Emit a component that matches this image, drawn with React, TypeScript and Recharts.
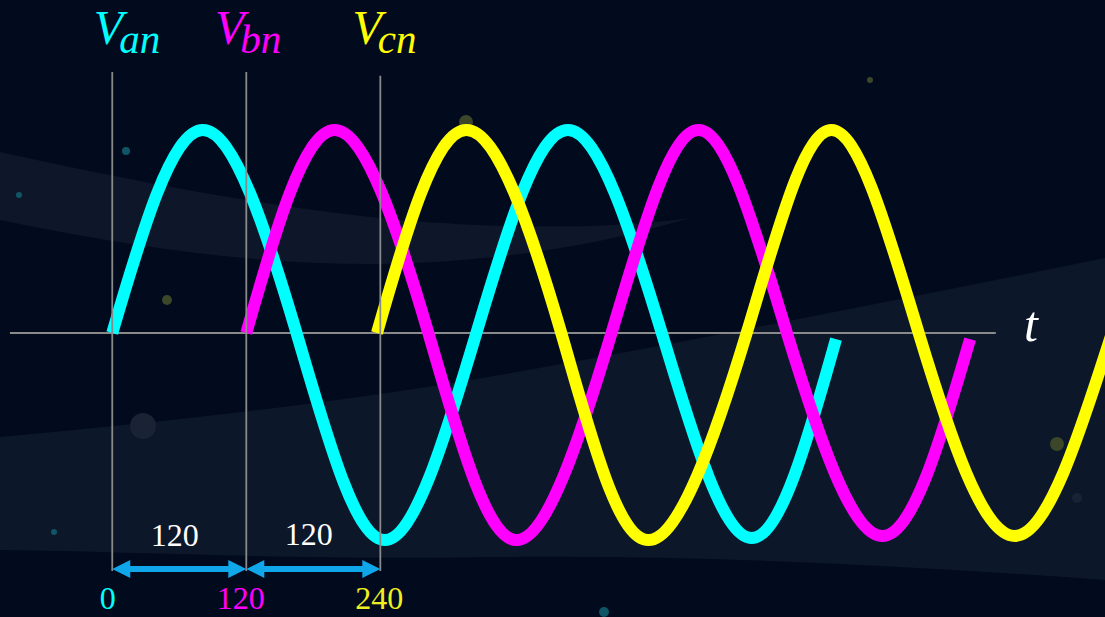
import React from "react";
import { LineChart, Line, XAxis, YAxis, ReferenceLine, ReferenceDot } from "recharts";

// phase angle (degrees) and normalised voltage
const vanDeg = [0, 81, 165, 244, 326, 408, 492, 572, 648];
const vanVal = [0, 0.99, 0, -1.01, 0, 0.99, 0, -1.0, -0.03];
const vbnDeg = [120, 199, 283, 362, 447, 525, 604, 689, 768];
const vbnVal = [0, 0.99, 0, -1.01, 0, 0.99, 0, -0.99, -0.03];
const vcnDeg = [237, 317, 402, 480, 568, 644, 722, 808, 895];
const vcnVal = [0, 0.99, 0, -1.01, 0, 0.99, 0, -0.99, 0];

const phaseStarts = [0, 120, 240];
const phaseTickLabels = ["0", "120", "240"];
const shiftLabels = ["120", "120"];
const seriesNames = ["an", "bn", "cn"];

const toRows = (xs: number[], ys: number[]) => xs.map((x, i) => ({ x, v: ys[i] }));
const vanData = toRows(vanDeg, vanVal);
const vbnData = toRows(vbnDeg, vbnVal);
const vcnData = toRows(vcnDeg, vcnVal);

const COLORS = ["#00ffff", "#ff00ff", "#ffff00"];
const BOTTOM_COLORS = ["#00ffff", "#ff00ff", "#f0f020"];
const GRID = "#8a8a8a";
const ARROW = "#10a6ea";
const SERIF = "'Liberation Serif', 'Times New Roman', serif";

const arrowShape = (p: any) => {
  const { x1, y1, x2 } = p;
  const h = 18, w = 9, t = 3;
  const y = y1;
  const pts = [
    [x1, y], [x1 + h, y - w], [x1 + h, y - t], [x2 - h, y - t], [x2 - h, y - w],
    [x2, y], [x2 - h, y + w], [x2 - h, y + t], [x1 + h, y + t], [x1 + h, y + w],
  ].map((q) => q.join(",")).join(" ");
  return <polygon points={pts} fill={ARROW} />;
};

const seriesLabel = (i: number) => (p: any) => (
  <text x={p.cx} y={p.cy} fill={COLORS[i]} fontFamily={SERIF} fontStyle="italic">
    <tspan fontSize={48}>V</tspan>
    <tspan fontSize={41} dx={-4} dy={9.5}>{seriesNames[i]}</tspan>
  </text>
);

const plainText = (txt: string, color: string, size: number, italic = false) => (p: any) => (
  <text x={p.cx} y={p.cy} fill={color} fontFamily={SERIF} fontSize={size}
    fontStyle={italic ? "italic" : "normal"} textAnchor="middle">{txt}</text>
);

const Background = () => (
  <svg width={1105} height={617} style={{ position: "absolute", left: 0, top: 0 }}>
    <rect x={0} y={0} width={1105} height={617} fill="#020a1e" />
    <path d="M0,437 Q300,410 500,375 T1105,258 L1105,580 C900,565 700,555 500,557 C300,560 150,552 0,550 Z" fill="#0d172a" />
    <path d="M0,152 C120,178 260,207 400,220 C520,230 620,228 690,218 C600,245 500,262 380,264 C250,265 120,245 0,220 Z" fill="#0e1729" />
    <circle cx={143} cy={426} r={13} fill="#1a2334" />
    <circle cx={167} cy={300} r={5} fill="#3c4628" />
    <circle cx={126} cy={151} r={4} fill="#0e5566" />
    <circle cx={466} cy={122} r={7} fill="#3c4628" />
    <circle cx={1057} cy={444} r={7} fill="#3c4628" />
    <circle cx={870} cy={80} r={3} fill="#3c4628" />
    <circle cx={1077} cy={498} r={5} fill="#1a2334" />
    <circle cx={19} cy={195} r={3} fill="#0e5566" />
    <circle cx={54} cy={532} r={3} fill="#0e5566" />
    <circle cx={604} cy={612} r={5} fill="#0e5566" />
  </svg>
);

const lineCommon = {
  dataKey: "v",
  type: "natural" as const,
  strokeWidth: 12,
  dot: false,
  activeDot: false,
  legendType: "none" as const,
  isAnimationActive: false,
};

export default function App() {
  return (
    <div style={{ position: "absolute", left: 0, top: 0, width: 1105, height: 617, overflow: "hidden", background: "#020a1e" }}>
      <Background />
      <div style={{ position: "absolute", left: 0, top: 0 }}>
        <LineChart width={1105} height={617} margin={{ top: 0, right: 0, bottom: 0, left: 0 }}>
          <XAxis type="number" dataKey="x" domain={[-100.5, 888.8]} allowDataOverflow hide />
          <YAxis type="number" domain={[-1.385, 1.624]} allowDataOverflow hide />
          <ReferenceLine segment={[{ x: -91.6, y: 0 }, { x: 791, y: 0 }]} stroke={GRID} strokeWidth={2} />
          <Line {...lineCommon} data={vanData} stroke={COLORS[0]} />
          <Line {...lineCommon} data={vbnData} stroke={COLORS[1]} />
          <Line {...lineCommon} data={vcnData} stroke={COLORS[2]} />
          <ReferenceLine segment={[{ x: phaseStarts[0], y: 1.273 }, { x: phaseStarts[0], y: -1.161 }]} stroke={GRID} strokeWidth={1.8} />
          <ReferenceLine segment={[{ x: phaseStarts[1], y: 1.273 }, { x: phaseStarts[1], y: -1.161 }]} stroke={GRID} strokeWidth={1.8} />
          <ReferenceLine segment={[{ x: phaseStarts[2], y: 1.254 }, { x: phaseStarts[2], y: -1.161 }]} stroke={GRID} strokeWidth={1.8} />
          <ReferenceLine segment={[{ x: phaseStarts[0], y: -1.151 }, { x: phaseStarts[1], y: -1.151 }]} shape={arrowShape} />
          <ReferenceLine segment={[{ x: phaseStarts[1], y: -1.151 }, { x: phaseStarts[2], y: -1.151 }]} shape={arrowShape} />
          <ReferenceDot x={-16.5} y={1.41} r={0} shape={seriesLabel(0)} />
          <ReferenceDot x={92} y={1.41} r={0} shape={seriesLabel(1)} />
          <ReferenceDot x={215} y={1.41} r={0} shape={seriesLabel(2)} />
          <ReferenceDot x={56} y={-1.039} r={0} shape={plainText(shiftLabels[0], "#ffffff", 32)} />
          <ReferenceDot x={176} y={-1.034} r={0} shape={plainText(shiftLabels[1], "#ffffff", 32)} />
          <ReferenceDot x={-4} y={-1.346} r={0} shape={plainText(phaseTickLabels[0], BOTTOM_COLORS[0], 32)} />
          <ReferenceDot x={115} y={-1.346} r={0} shape={plainText(phaseTickLabels[1], BOTTOM_COLORS[1], 32)} />
          <ReferenceDot x={239} y={-1.346} r={0} shape={plainText(phaseTickLabels[2], BOTTOM_COLORS[2], 32)} />
          <ReferenceDot x={822.5} y={-0.039} r={0} shape={plainText("t", "#ffffff", 50, true)} />
        </LineChart>
      </div>
    </div>
  );
}
